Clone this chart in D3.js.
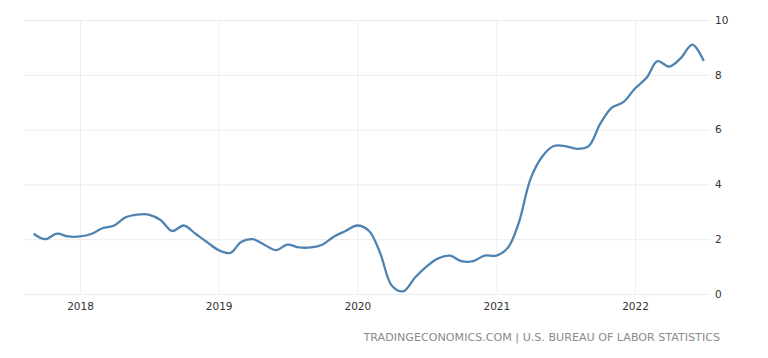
<!DOCTYPE html>
<html><head><meta charset="utf-8">
<script src="https://cdn.jsdelivr.net/npm/d3@7"></script>
<style>
html,body{margin:0;padding:0;background:#fff;}
svg{display:block;}
text{font-family:"DejaVu Sans",Verdana,sans-serif;}
</style></head><body>
<svg id="c" width="768" height="358"></svg>
<script>
const startMonth = "2017-09";
const values = [
  2.2, 2.0, 2.2, 2.1,
  2.1, 2.2, 2.4, 2.5, 2.8, 2.9, 2.9, 2.7, 2.3, 2.5, 2.2, 1.9,
  1.6, 1.5, 1.9, 2.0, 1.8, 1.6, 1.8, 1.7, 1.7, 1.8, 2.1, 2.3,
  2.5, 2.3, 1.5, 0.3, 0.1, 0.6, 1.0, 1.3, 1.4, 1.2, 1.2, 1.4,
  1.4, 1.7, 2.6, 4.2, 5.0, 5.4, 5.4, 5.3, 5.4, 6.2, 6.8, 7.0,
  7.5, 7.9, 8.5, 8.3, 8.6, 9.1, 8.5
];
const yTicks = [0, 2, 4, 6, 8, 10];
const yearTicks = ["2018", "2019", "2020", "2021", "2022"];
const sourceText = "TRADINGECONOMICS.COM | U.S. BUREAU OF LABOR STATISTICS";

const parse = d3.timeParse("%Y-%m");
const t0 = parse(startMonth);
const data = values.map((v, i) => ({date: d3.timeMonth.offset(t0, i), value: v}));

const svg = d3.select("#c");
const x = d3.scaleTime()
  .domain([parse("2018-01"), parse("2022-01")])
  .range([80, 635]);
const y = d3.scaleLinear().domain([0, 10]).range([294, 20]);

// horizontal grid
const gy = svg.append("g").attr("transform", "translate(710,0)")
  .call(d3.axisRight(y).tickValues(yTicks).tickSize(-686).tickPadding(5).tickFormat(d3.format("d")));
gy.select(".domain").remove();
gy.selectAll("line").attr("stroke", "#ececec").attr("stroke-width", 1);
gy.selectAll("text").attr("fill", "#333").attr("font-size", 10.5).attr("dy", "0.32em");

// vertical grid + year labels
const xTickDates = yearTicks.map(s => parse(s + "-01"));
const gx = svg.append("g").attr("transform", "translate(0,294)")
  .call(d3.axisBottom(x).tickValues(xTickDates).tickSize(-274).tickPadding(9).tickFormat(d3.timeFormat("%Y")));
gx.select(".domain").remove();
gx.selectAll("line").attr("stroke", "#efefef").attr("stroke-width", 1);
gx.selectAll("text").attr("fill", "#333").attr("font-size", 10.5);

const line = d3.line()
  .x(d => x(d.date))
  .y(d => y(d.value))
  .curve(d3.curveCatmullRom.alpha(0.5));

svg.append("path").datum(data)
  .attr("d", line)
  .attr("fill", "none")
  .attr("stroke", "#4f83b2")
  .attr("stroke-width", 2.3)
  .attr("stroke-linejoin", "round");

const src = svg.append("text")
  .attr("x", 720).attr("y", 341)
  .attr("text-anchor", "end")
  .attr("fill", "#8a8a8a")
  .attr("font-size", 10)
  .text(sourceText);
const w = src.node().getComputedTextLength();
src.attr("font-size", 10 * 357 / w);
</script>
</body></html>
